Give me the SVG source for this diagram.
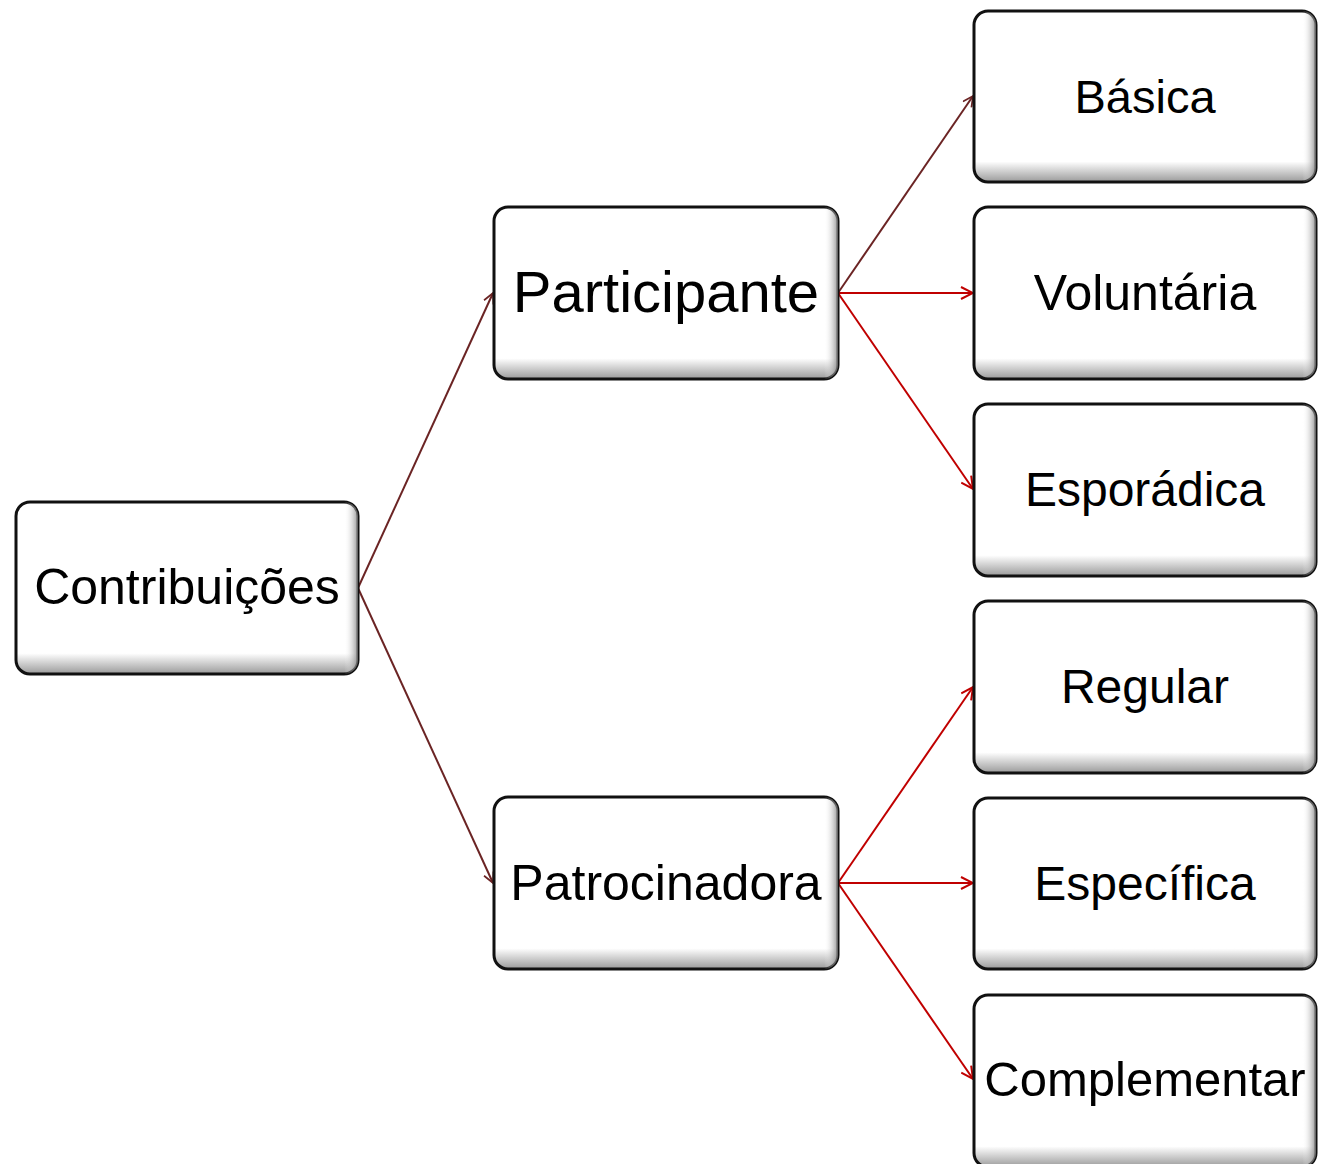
<svg xmlns="http://www.w3.org/2000/svg" width="1320" height="1164" viewBox="0 0 1320 1164">
<defs>
<linearGradient id="gv" x1="0" y1="0" x2="0" y2="1">
<stop offset="0" stop-color="#ffffff"/>
<stop offset="0.88" stop-color="#ffffff"/>
<stop offset="1" stop-color="#9a9a9a"/>
</linearGradient>
<linearGradient id="gh" x1="0" y1="0" x2="1" y2="0">
<stop offset="0" stop-color="#ffffff" stop-opacity="0"/>
<stop offset="0.96" stop-color="#ffffff" stop-opacity="0"/>
<stop offset="1" stop-color="#7a7a7a" stop-opacity="0.8"/>
</linearGradient>
<marker id="ar" viewBox="0 0 14 14" refX="13" refY="7" markerWidth="14" markerHeight="14" markerUnits="userSpaceOnUse" orient="auto">
<path d="M1,1 L13,7 L1,13" fill="none" stroke="#c00000" stroke-width="2"/>
</marker>
<marker id="ad" viewBox="0 0 14 14" refX="13" refY="7" markerWidth="12" markerHeight="12" markerUnits="userSpaceOnUse" orient="auto">
<path d="M1,1 L13,7 L1,13" fill="none" stroke="#6b2424" stroke-width="2"/>
</marker>
</defs>
<style>
.box{fill:url(#gv);stroke:#111;stroke-width:3}
.sh{fill:url(#gh);stroke:none}
.t{font-family:"Liberation Sans",Arial,sans-serif;fill:#000;text-anchor:middle}
.cr{stroke:#c00000;stroke-width:2;fill:none;marker-end:url(#ar)}
.cd{stroke:#6b2424;stroke-width:2;fill:none;marker-end:url(#ad)}
</style>
<g id="connectors">
<line class="cd" x1="358" y1="588" x2="493" y2="293"/>
<line class="cd" x1="358" y1="588" x2="493" y2="883"/>
<line class="cd" x1="838" y1="293" x2="973" y2="96"/>
<line class="cr" x1="838" y1="293" x2="973" y2="293"/>
<line class="cr" x1="838" y1="293" x2="973" y2="489"/>
<line class="cr" x1="838" y1="883" x2="973" y2="687"/>
<line class="cr" x1="838" y1="883" x2="973" y2="883"/>
<line class="cr" x1="838" y1="883" x2="973" y2="1079"/>
</g>
<g id="n-contribuicoes">
<rect class="box" x="16" y="502" width="342" height="172" rx="14"/>
<rect class="sh" x="16" y="502" width="342" height="172" rx="14"/>
<text class="t" x="187" y="604" font-size="50">Contribuições</text>
</g>
<g id="n-participante">
<rect class="box" x="494" y="207" width="344" height="172" rx="14"/>
<rect class="sh" x="494" y="207" width="344" height="172" rx="14"/>
<text class="t" x="666" y="312" font-size="58">Participante</text>
</g>
<g id="n-patrocinadora">
<rect class="box" x="494" y="797" width="344" height="172" rx="14"/>
<rect class="sh" x="494" y="797" width="344" height="172" rx="14"/>
<text class="t" x="666" y="900" font-size="50">Patrocinadora</text>
</g>
<g id="n-basica">
<rect class="box" x="974" y="11" width="342" height="171" rx="14"/>
<rect class="sh" x="974" y="11" width="342" height="171" rx="14"/>
<text class="t" x="1145" y="113" font-size="47">Básica</text>
</g>
<g id="n-voluntaria">
<rect class="box" x="974" y="207" width="342" height="172" rx="14"/>
<rect class="sh" x="974" y="207" width="342" height="172" rx="14"/>
<text class="t" x="1145" y="310" font-size="50">Voluntária</text>
</g>
<g id="n-esporadica">
<rect class="box" x="974" y="404" width="342" height="172" rx="14"/>
<rect class="sh" x="974" y="404" width="342" height="172" rx="14"/>
<text class="t" x="1145" y="506" font-size="48">Esporádica</text>
</g>
<g id="n-regular">
<rect class="box" x="974" y="601" width="342" height="172" rx="14"/>
<rect class="sh" x="974" y="601" width="342" height="172" rx="14"/>
<text class="t" x="1145" y="703" font-size="48">Regular</text>
</g>
<g id="n-especifica">
<rect class="box" x="974" y="798" width="342" height="171" rx="14"/>
<rect class="sh" x="974" y="798" width="342" height="171" rx="14"/>
<text class="t" x="1145" y="900" font-size="48">Específica</text>
</g>
<g id="n-complementar">
<rect class="box" x="974" y="995" width="342" height="172" rx="14"/>
<rect class="sh" x="974" y="995" width="342" height="172" rx="14"/>
<text class="t" x="1145" y="1096" font-size="49">Complementar</text>
</g>
</svg>
